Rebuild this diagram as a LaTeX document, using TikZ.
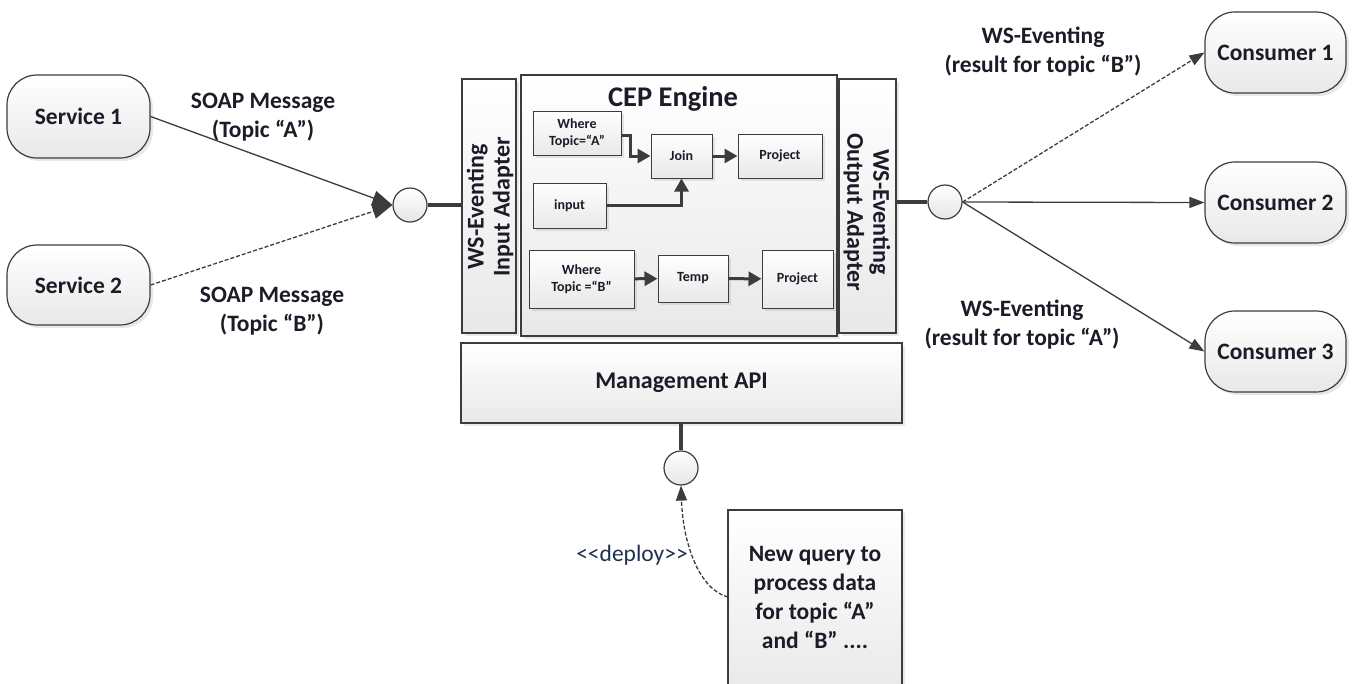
\documentclass[tikz,border=0pt]{standalone}
\usepackage{fontspec}
\setmainfont{Carlito}
\usetikzlibrary{arrows.meta,shadows,calc}
\definecolor{edge}{HTML}{3C3C3C}
\definecolor{txt}{HTML}{1C1C28}
\definecolor{deploycol}{HTML}{1E2F50}
\begin{document}
\begin{tikzpicture}[x=1pt,y=-1pt,
  every node/.style={text=txt},
  base/.style={draw=edge, line width=1.2pt, top color=white, bottom color=black!9,
    drop shadow={shadow xshift=3pt, shadow yshift=-3pt, opacity=0.18},
    align=center, inner sep=0pt, font=\bfseries},
  rbox/.style={base, rounded corners=30pt, font=\fontsize{23.5}{28}\selectfont\bfseries},
  sbox/.style={base, line width=1pt, font=\fontsize{14}{17}\selectfont\bfseries},
  big/.style={base, font=\fontsize{24}{28}\selectfont\bfseries},
  vtext/.style={align=center, inner sep=0pt, font=\fontsize{24}{26}\selectfont\bfseries},
  port/.style={circle, draw=edge, line width=1.2pt, top color=white, bottom color=black!10,
    minimum size=34pt, inner sep=0pt},
  lbl/.style={align=center, font=\fontsize{23.5}{29}\selectfont\bfseries},
  stub/.style={draw=edge, line width=4pt},
  conn/.style={draw=edge, line width=1.3pt, -{Triangle[width=11pt,length=15pt]}},
  dconn/.style={conn, dashed, dash pattern=on 4pt off 2pt},
  carrow/.style={draw=edge, line width=3pt, -{Triangle[width=14pt,length=13pt]}},
]
\useasboundingbox (0,0) rectangle (1354,683);
\clip (0,0) rectangle (1354,683);

% services and consumers
\node[rbox, minimum width=143pt, minimum height=83pt] (s1) at (78.5,116.5) {Service 1};
\node[rbox, minimum width=143pt, minimum height=80pt] (s2) at (78.5,285) {Service 2};
\node[rbox, minimum width=141pt, minimum height=81pt] (c1) at (1275.5,52.5) {Consumer 1};
\node[rbox, minimum width=141pt, minimum height=81pt] (c2) at (1275.5,202.5) {Consumer 2};
\node[rbox, minimum width=141pt, minimum height=81pt] (c3) at (1275.5,351.5) {Consumer 3};

% adapters and engine
\node[base, minimum width=54pt, minimum height=254pt] (inad) at (489,206) {};
\node[vtext, rotate=90] (inadt) at (490,207) {WS-Eventing\\Input Adapter};
\node[base, minimum width=316pt, minimum height=261pt] (cep) at (679,205.5) {};
\node[font=\fontsize{28.5}{32}\selectfont\bfseries] (cept) at (673,99) {CEP Engine};
\node[base, minimum width=57pt, minimum height=254pt] (outad) at (867.5,206) {};
\node[vtext, rotate=-90] (outadt) at (867,212) {WS-Eventing\\Output Adapter};
\node[big, minimum width=441pt, minimum height=80pt] (mgmt) at (681.5,383) {Management API};

% inner operators
\node[sbox, minimum width=88pt, minimum height=44pt] (wa) at (577,133) {Where\\Topic=“A”};
\node[sbox, minimum width=61pt, minimum height=44pt] (join) at (681.5,156) {Join};
\node[sbox, minimum width=84pt, minimum height=44pt] (p1) at (780,156) {Project};
\node[sbox, minimum width=73pt, minimum height=45pt] (inp) at (569.5,205.5) {input};
\node[sbox, minimum width=105pt, minimum height=58pt] (wb) at (581.5,279) {Where\\Topic =“B”};
\node[sbox, minimum width=70pt, minimum height=47pt] (temp) at (693,278.5) {Temp};
\node[sbox, minimum width=71pt, minimum height=58pt] (p2) at (797.5,279) {Project};

% ports
\node[port] (inc) at (410,205) {};
\node[port] (outc) at (945,202) {};
\node[port] (mc) at (681,468) {};

% query box
\node[base, minimum width=174pt, minimum height=190pt] (q) at (815,605) {};
\node[lbl] (qt) at (815,597) {New query to\\process data\\for topic “A”\\and “B” ....};
\coordinate (qa) at (728,597);

% labels
\node[lbl] (l1) at (263,117.5) {SOAP Message\\(Topic “A”)};
\node[lbl] (l2) at (272,311.5) {SOAP Message\\(Topic “B”)};
\node[lbl] (l3) at (1043,52) {WS-Eventing\\(result for topic “B”)};
\node[lbl] (l4) at (1022,325) {WS-Eventing\\(result for topic “A”)};
\node[font=\fontsize{23.5}{26}\selectfont, text=deploycol] (dep) at (632,555) {<{}<deploy>{}>};

% stubs
\draw[stub] (inc.east) -- (inad.west |- inc);
\draw[stub] (outad.east |- outc) -- (outc.west);
\draw[stub] (mgmt.south -| mc) -- (mc.north);

% connectors
\draw[conn, -{Triangle[width=15pt,length=20pt]}] (s1.east) -- (inc.west);
\draw[dconn, -{Triangle[width=15pt,length=20pt]}] (s2.east) -- (inc.west);
\draw[dconn] (outc.east) -- (c1.west);
\draw[conn] (outc.east) -- (c2.west);
\draw[conn] (outc.east) -- (c3.west);
\draw[dconn] (qa) .. controls (700,590) and (683,545) .. (mc.south);

% engine arrows
\draw[carrow] ([yshift=-2pt]wa.east) -- ++(9,0) |- (join.west);
\draw[carrow] (inp.east) -| (join.south);
\draw[carrow] (join) -- (p1);
\draw[carrow] (wb) -- (temp);
\draw[carrow] (temp) -- (p2);
\end{tikzpicture}
\end{document}
